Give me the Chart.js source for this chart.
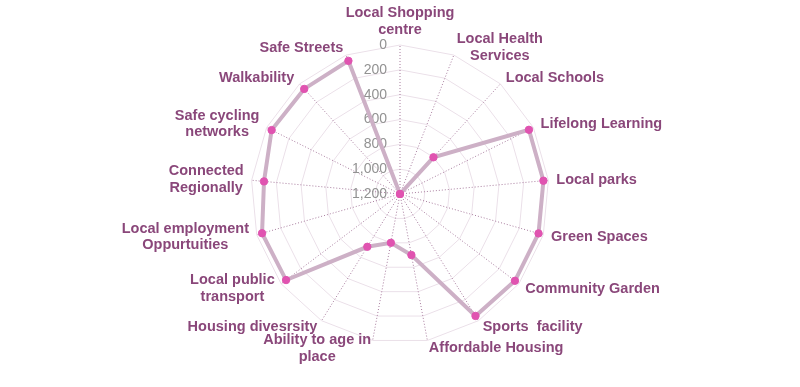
<!DOCTYPE html>
<html>
<head>
<meta charset="utf-8">
<script src="https://cdn.jsdelivr.net/npm/chart.js@4"></script>
<style>
  html, body { margin: 0; padding: 0; background: #fff; }
  #radar { display: block; }
</style>
</head>
<body>
<canvas id="radar" width="800" height="387"></canvas>
<script>
// categories, clockwise from the top
var categorias = [
	['Local Shopping', 'centre'],
	['Local Health', 'Services'],
	'Local Schools',
	'Lifelong Learning',
	'Local parks',
	'Green Spaces',
	'Community Garden',
	'Sports  facility',
	'Affordable Housing',
	['Ability to age in', 'place'],
	'Housing divesrsity',
	['Local public', 'transport'],
	['Local employment', 'Oppurtuities'],
	['Connected', 'Regionally'],
	['Safe cycling', 'networks'],
	'Walkability',
	'Safe Streets'
];

// values (axis is reversed: 0 outside, 1,200 in the middle)
var valores = [1200, 1200, 800, 40, 40, 40, 40, 45, 700, 800, 700, 50, 45, 100, 45, 55, 50];

var ticksEscala = [0, 200, 400, 600, 800, 1000, 1200];

var fonteRotulo = 'bold 14.5px "Liberation Sans", Arial, sans-serif';
var alturaLinha = 16.7;

// the tick numbers sit to the left of the top axis, right aligned
var rotulosEscala = {
	id: 'rotulosEscala',
	beforeDatasetsDraw: function(chart) {
		var ctx = chart.ctx;
		var r = chart.scales.r;
		ctx.save();
		ctx.font = '14px "Liberation Sans", Arial, sans-serif';
		ctx.fillStyle = '#929292';
		ctx.textAlign = 'right';
		ctx.textBaseline = 'middle';
		ticksEscala.forEach(function(v) {
			var y = r.yCenter - r.getDistanceFromCenterForValue(v);
			ctx.fillText(v.toLocaleString('en-US'), r.xCenter - 13, y);
		});
		ctx.restore();
	}
};

// category labels: block anchored just outside each spoke, lines centred in the block
var rotulosCategorias = {
	id: 'rotulosCategorias',
	afterDraw: function(chart) {
		var ctx = chart.ctx;
		var r = chart.scales.r;
		var n = chart.data.labels.length;
		ctx.save();
		ctx.font = fonteRotulo;
		ctx.fillStyle = '#8a477a';
		ctx.textBaseline = 'middle';
		ctx.textAlign = 'center';
		chart.data.labels.forEach(function(rotulo, i) {
			var linhas = Array.isArray(rotulo) ? rotulo : [rotulo];
			var ang = i * 2 * Math.PI / n;
			var s = Math.sin(ang);
			var c = Math.cos(ang);
			var topoEixo = Math.abs(s) < 0.01;
			var p = r.getPointPosition(i, r.drawingArea + (topoEixo ? 6.5 : 8));
			var largura = 0;
			linhas.forEach(function(l) { largura = Math.max(largura, ctx.measureText(l).width); });
			var altura = linhas.length * alturaLinha;
			var cx, topo;
			if (topoEixo) {
				cx = p.x;
				topo = c > 0 ? p.y - altura : p.y;
			} else {
				cx = s > 0 ? p.x + largura / 2 : p.x - largura / 2;
				topo = p.y - altura / 2;
			}
			linhas.forEach(function(l, k) {
				ctx.fillText(l, cx, topo + alturaLinha * (k + 0.5));
			});
		});
		ctx.restore();
	}
};

var ctx = document.getElementById('radar').getContext('2d');
var grafico = new Chart(ctx, {
	type: 'radar',
	data: {
		labels: categorias,
		datasets: [{
			label: 'Score',
			data: valores,
			borderColor: '#cdb0c6',
			borderWidth: 4,
			backgroundColor: 'rgba(0,0,0,0)',
			fill: false,
			pointBackgroundColor: '#e053b0',
			pointBorderColor: '#e053b0',
			pointRadius: 3.7,
			pointBorderWidth: 1
		}]
	},
	options: {
		responsive: false,
		animation: false,
		layout: { padding: { top: 45, bottom: 44, left: 0, right: 0 } },
		plugins: {
			legend: { display: false },
			tooltip: { enabled: false }
		},
		scales: {
			r: {
				reverse: true,
				min: 0,
				max: 1200,
				ticks: { stepSize: 200, display: false },
				grid: { color: '#ebe0e9', lineWidth: 1 },
				angleLines: { color: '#a77b9d', borderDash: [1, 2], lineWidth: 1 },
				pointLabels: { display: false }
			}
		}
	},
	plugins: [rotulosEscala, rotulosCategorias]
});
</script>
</body>
</html>
